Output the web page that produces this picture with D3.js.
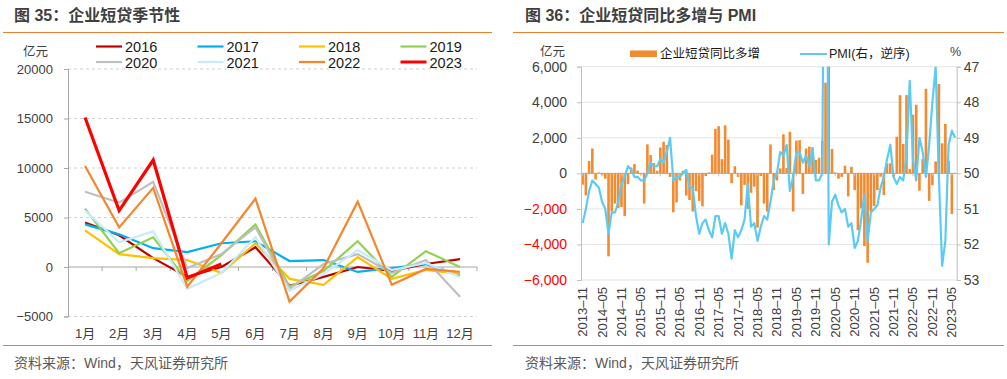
<!DOCTYPE html>
<html><head><meta charset="utf-8">
<script src="https://cdn.jsdelivr.net/npm/d3@7"></script>
<style>
html,body{margin:0;padding:0;background:#fff;}
svg{display:block;}
text{font-family:"Liberation Sans","Noto Sans CJK SC",sans-serif;}
</style></head>
<body>
<svg id="c" width="1007" height="379"></svg>
<script>
// ---------- DATA: left chart (企业短贷季节性, 亿元) ----------
const monthsL = ["1月","2月","3月","4月","5月","6月","7月","8月","9月","10月","11月","12月"];
const years = ["2016","2017","2018","2019","2020","2021","2022","2023"];
const v2016 = [4500, 3200, 900, -1000, 0, 2000, -1900, -1000, 0, -400, 300, 800];
const v2017 = [4300, 3300, 1900, 1500, 2400, 2600, 600, 700, -500, -100, 300, -900];
const v2018 = [3700, 1300, 900, 700, -600, 2400, -1200, -1800, 1000, -1200, -300, -700];
const v2019 = [5900, 1400, 3000, -1400, 1200, 4300, -2000, -400, 2600, -1000, 1600, 0];
const v2020 = [7600, 6500, 8600, -100, 1300, 4000, -2200, 300, 1300, -600, 700, -3000];
const v2021 = [5700, 2500, 3600, -2200, -600, 3000, -2400, -700, 1700, -300, 400, -1000];
const v2022 = [10200, 4000, 8000, -2000, 2400, 6900, -3500, -100, 6600, -1800, -200, -500];
const v2023 = [15100, 5700, 10800, -1100, 300];
const ticksL = [-5000, 0, 5000, 10000, 15000, 20000];

// ---------- DATA: right chart (企业短贷同比多增 & PMI) ----------
const startYear = 2013, startMonth = 11;
const loanDiff = [
  -640, -1240,
  700, 1400, -350, 50, -100, -300, -4670, -2150, -1700, -1950, -1900, -2400,
  -600, 330, 520, 150, -60, -1700, 1630, 1030, 580, 150, 1460, 1780,
  1590, -200, -2190, -1630, -400, 150, -1250, -1500, -2150, -1000, -1550, -1850,
  -150, 50, 1050, 2500, 2650, 800, 2700, 1900, -550, 400, -200, -1800,
  -650, -2000, -1090, -750, -3050, -150, -1700, -2150, 1630, -940, -400, 280,
  2200, 300, 2340, -2150, 1840, 1870, -1160, 1400, 1500, 1460, 750, 880,
  1820, 5100, 6400, 1370, 50, -300, -200, 430, -1300, 370, -940, -3200,
  -1970, -4090, -5030, -2150, -1840, -940, -190, -1220, 560, 560, -190, 2060,
  4400, 1650, 4400, 250, 3300, 3860, -975, 800, 4760, -1550, -670, 670,
  5030, 1690, 2780, 700, -2290
];
const pmi = [
  51.4, 51.0,
  50.5, 50.2, 50.3, 50.4, 50.8, 51.0, 51.7, 51.1, 51.1, 50.8, 50.3, 50.1,
  49.8, 49.9, 50.1, 50.1, 50.2, 50.2, 50.0, 49.7, 49.8, 49.8, 49.6, 49.7,
  49.4, 49.0, 50.2, 50.1, 50.1, 50.0, 49.9, 50.4, 50.4, 51.2, 51.7, 51.4,
  51.3, 51.6, 51.8, 51.2, 51.2, 51.7, 51.4, 51.7, 52.4, 51.6, 51.8, 51.6,
  51.3, 50.3, 51.5, 51.4, 51.9, 51.5, 51.2, 51.3, 50.8, 50.2, 50.0, 49.4,
  49.5, 49.2, 50.5, 50.1, 49.4, 49.4, 49.7, 49.5, 49.8, 49.3, 50.2, 50.2,
  50.0, 35.7, 52.0, 50.8, 50.6, 50.9, 51.1, 51.0, 51.5, 51.4, 52.1, 51.9,
  51.3, 50.6, 51.9, 51.1, 51.0, 50.9, 50.4, 50.1, 49.6, 49.2, 50.1, 50.3,
  50.1, 50.2, 49.5, 47.4, 49.6, 50.2, 49.0, 49.4, 50.1, 49.2, 48.0, 47.0,
  50.1, 52.6, 51.9, 49.2, 48.8, 49.0
];
const ticksLoan = [-6000, -4000, -2000, 0, 2000, 4000, 6000];
const ticksPmi = [47, 48, 49, 50, 51, 52, 53];

// month keys for the right chart
const monthsR = pmi.map((_, i) => {
  const t = (startMonth - 1) + i;
  const y = startYear + Math.floor(t / 12), m = t % 12 + 1;
  return y + "-" + String(m).padStart(2, "0");
});
const labelMonthsR = monthsR.filter((_, i) => i % 6 === 0);

// ---------- STYLE ----------
const seriesL = [v2016, v2017, v2018, v2019, v2020, v2021, v2022, v2023];
const colorsL = ["#C00000", "#00B0F0", "#FFC000", "#92D050", "#BFBFBF", "#C6ECFC", "#F5862E", "#FF0000"];
const widthsL = [2.2, 2.2, 2.2, 2.2, 2.2, 2.2, 2.2, 3.2];
const ORANGE = "#ED7D31";
const TXT = "#404040";

const svg = d3.select("#c");
svg.append("rect").attr("width", 1007).attr("height", 379).attr("fill", "#fff");

// ---------- headers / footers ----------
function header(x0, x1, title, tx) {
  svg.append("text").attr("x", tx).attr("y", 21).attr("font-size", 16).attr("font-weight", "bold")
    .attr("fill", "#3F3F3F").attr("font-family", "'Noto Sans CJK SC','Liberation Sans',sans-serif").text(title);
  svg.append("line").attr("x1", x0).attr("x2", x1).attr("y1", 32.5).attr("y2", 32.5)
    .attr("stroke", ORANGE).attr("stroke-width", 1.2);
  svg.append("line").attr("x1", x0).attr("x2", x1).attr("y1", 345.5).attr("y2", 345.5)
    .attr("stroke", ORANGE).attr("stroke-width", 1.2);
}
header(3, 492, "图 35：企业短贷季节性", 14);
header(513, 1004, "图 36：企业短贷同比多增与 PMI", 525);
svg.append("text").attr("x", 14).attr("y", 368).attr("font-size", 14).attr("fill", "#595959").text("资料来源：Wind，天风证券研究所");
svg.append("text").attr("x", 525).attr("y", 368).attr("font-size", 14).attr("fill", "#595959").text("资料来源：Wind，天风证券研究所");

// ---------- LEFT CHART ----------
const xL = d3.scaleBand().domain(monthsL).range([68, 477]);
const yL = d3.scaleLinear().domain([-5000, 20000]).range([316.5, 69]);
const gL = svg.append("g");
gL.selectAll(".gl").data(ticksL.filter(d => d !== 0)).join("line")
  .attr("x1", 68).attr("x2", 477).attr("y1", d => yL(d)).attr("y2", d => yL(d))
  .attr("stroke", "#D0D0D0").attr("stroke-dasharray", "3,3");
const axL = gL.append("g").attr("transform", "translate(68,0)")
  .call(d3.axisLeft(yL).tickValues(ticksL).tickSize(4).tickPadding(11).tickFormat(d3.format("d")));
axL.select(".domain").attr("stroke", "#A6A6A6");
axL.selectAll(".tick line").attr("stroke", "#A6A6A6");
axL.selectAll("text").attr("font-size", 13).attr("fill", TXT).attr("font-family", "'Liberation Sans',sans-serif");
gL.append("line").attr("x1", 68).attr("x2", 477).attr("y1", yL(0)).attr("y2", yL(0)).attr("stroke", "#A6A6A6");
gL.selectAll(".bt").data(monthsL).join("line")
  .attr("x1", d => xL(d) + xL.bandwidth()).attr("x2", d => xL(d) + xL.bandwidth())
  .attr("y1", yL(0)).attr("y2", yL(0) + 4).attr("stroke", "#A6A6A6");
gL.selectAll(".ml").data(monthsL).join("text")
  .attr("x", d => xL(d) + xL.bandwidth() / 2).attr("y", 338).attr("text-anchor", "middle")
  .attr("font-size", 13).attr("fill", TXT).text(d => d);
const lineL = d3.line().x((d, i) => xL(monthsL[i]) + xL.bandwidth() / 2).y(d => yL(d));
seriesL.forEach((s, k) => {
  gL.append("path").attr("d", lineL(s)).attr("fill", "none")
    .attr("stroke", colorsL[k]).attr("stroke-width", widthsL[k]).attr("stroke-linejoin", "miter");
});
svg.append("text").attr("x", 23).attr("y", 56).attr("font-size", 12.5).attr("fill", TXT).text("亿元");
const legX = [96, 197.5, 299, 400.5], legY = [46.5, 62];
years.forEach((yname, k) => {
  const x = legX[k % 4], y = legY[Math.floor(k / 4)];
  svg.append("line").attr("x1", x).attr("x2", x + 26).attr("y1", y).attr("y2", y)
    .attr("stroke", colorsL[k]).attr("stroke-width", k === 7 ? 3 : 2.2);
  svg.append("text").attr("x", x + 29).attr("y", y + 5.5).attr("font-size", 14.5).attr("fill", "#1A1A1A").text(yname);
});

// ---------- RIGHT CHART ----------
const X0 = 581, X1 = 956.7, YT = 66.7, YB = 280;
const xR = d3.scaleBand().domain(monthsR).range([X0, X1]).paddingInner(0.2).paddingOuter(0.1);
const yR = d3.scaleLinear().domain([-6000, 6000]).range([YB, YT]);
const yP = d3.scaleLinear().domain([47, 53]).range([YT, YB]);
const cx = m => xR(m) + xR.bandwidth() / 2;

const gR = svg.append("g");
svg.append("defs").append("clipPath").attr("id", "clipR").append("rect")
  .attr("x", X0).attr("y", YT).attr("width", X1 - X0).attr("height", YB - YT);
gR.selectAll(".gr").data(ticksLoan.filter(d => d !== 0)).join("line")
  .attr("x1", X0).attr("x2", X1).attr("y1", d => yR(d)).attr("y2", d => yR(d))
  .attr("stroke", "#E3E3E3").attr("stroke-width", 1);
gR.append("g").attr("clip-path", "url(#clipR)").selectAll("rect").data(loanDiff).join("rect")
  .attr("x", (d, i) => xR(monthsR[i])).attr("width", xR.bandwidth())
  .attr("y", d => yR(Math.max(0, d))).attr("height", d => Math.abs(yR(d) - yR(0)))
  .attr("fill", "#F28A30");
gR.append("line").attr("x1", X0).attr("x2", X1).attr("y1", yR(0)).attr("y2", yR(0)).attr("stroke", "#A6A6A6");
gR.selectAll(".zt").data(labelMonthsR).join("line")
  .attr("x1", d => cx(d)).attr("x2", d => cx(d)).attr("y1", yR(0)).attr("y2", yR(0) + 3).attr("stroke", "#BFBFBF");
gR.append("path").attr("clip-path", "url(#clipR)")
  .attr("d", d3.line().x((d, i) => cx(monthsR[i])).y(d => yP(d))(pmi))
  .attr("fill", "none").attr("stroke", "#5BCBF5").attr("stroke-width", 2.2).attr("stroke-linejoin", "round");
const axR1 = gR.append("g").attr("transform", `translate(${X0},0)`)
  .call(d3.axisLeft(yR).tickValues(ticksLoan).tickSize(4).tickPadding(10).tickFormat(d3.format(",")));
axR1.select(".domain").attr("stroke", "#BFBFBF");
axR1.selectAll(".tick line").attr("stroke", "#BFBFBF");
axR1.selectAll("text").attr("font-size", 14).attr("font-family", "'Liberation Sans',sans-serif")
  .attr("fill", d => d < 0 ? "#FF0000" : TXT);
const axR2 = gR.append("g").attr("transform", `translate(${X1},0)`)
  .call(d3.axisRight(yP).tickValues(ticksPmi).tickSize(4).tickPadding(3).tickFormat(d3.format("d")));
axR2.select(".domain").attr("stroke", "#BFBFBF");
axR2.selectAll(".tick line").attr("stroke", "#BFBFBF");
axR2.selectAll("text").attr("font-size", 14).attr("font-family", "'Liberation Sans',sans-serif").attr("fill", TXT);
gR.selectAll(".xl").data(labelMonthsR).join("text")
  .attr("transform", d => `translate(${cx(d) + 4.5},${YB + 7}) rotate(-90)`)
  .attr("text-anchor", "end").attr("font-size", 13).attr("fill", TXT)
  .text(d => d.replace("-", "–"));
svg.append("text").attr("x", 540).attr("y", 56).attr("font-size", 12.5).attr("fill", TXT).text("亿元");
svg.append("text").attr("x", 950).attr("y", 56).attr("font-size", 12.5).attr("fill", TXT).text("%");
svg.append("rect").attr("x", 630).attr("y", 50.5).attr("width", 27).attr("height", 6.5).attr("fill", "#F28A30");
svg.append("text").attr("x", 660).attr("y", 58).attr("font-size", 12.5).attr("fill", "#1A1A1A").text("企业短贷同比多增");
svg.append("line").attr("x1", 800).attr("x2", 827).attr("y1", 54).attr("y2", 54).attr("stroke", "#5BCBF5").attr("stroke-width", 2);
svg.append("text").attr("x", 829).attr("y", 58).attr("font-size", 12.5).attr("fill", "#1A1A1A").text("PMI(右，逆序)");
</script>
</body></html>
